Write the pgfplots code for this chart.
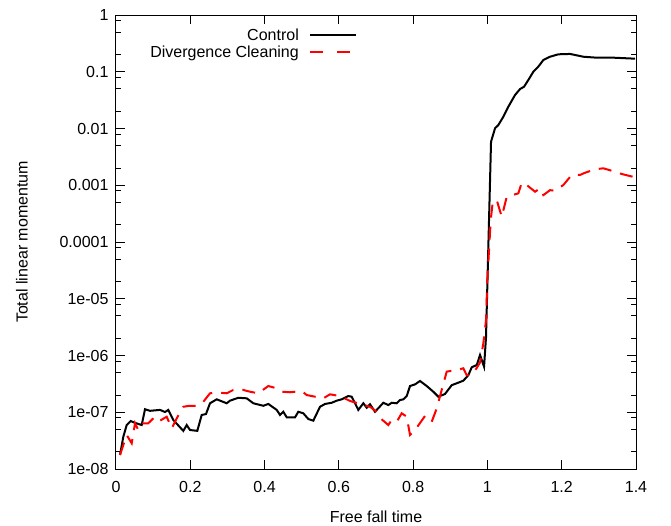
\documentclass[border=0pt]{standalone}
\usepackage{pgfplots}
\pgfplotsset{compat=1.18}
\usepackage{fontspec}
\setmainfont{Liberation Sans}
\begin{document}
\begin{tikzpicture}
\useasboundingbox (-116bp,-57bp) rectangle (555bp,469bp);
\begin{axis}[
  at={(0bp,0bp)}, anchor=south west,
  scale only axis, width=520bp, height=454bp,
  xmin=0, xmax=1.4, ymin=1e-8, ymax=1,
  ymode=log,
  font=\fontsize{16bp}{19bp}\selectfont,
  axis line style={line width=1bp},
  every tick/.style={black, line width=1bp},
  major tick length=9bp, minor tick length=5bp,
  tick align=inside,
  xtick={0,0.2,0.4,0.6,0.8,1,1.2,1.4},
  xticklabels={0,0.2,0.4,0.6,0.8,1,1.2,1.4},
  ytick={1e-8,1e-7,1e-6,1e-5,1e-4,1e-3,1e-2,1e-1,1},
  yticklabels={1e-08,1e-07,1e-06,1e-05,0.0001,0.001,0.01,0.1,1},
  minor ytick={2e-8,5e-8,8e-8,2e-7,5e-7,8e-7,2e-6,5e-6,8e-6,2e-5,5e-5,8e-5,2e-4,5e-4,8e-4,2e-3,5e-3,8e-3,2e-2,5e-2,8e-2,2e-1,5e-1,8e-1},
  minor xtick={},
  yticklabel style={xshift=-4bp},
  xticklabel style={yshift=-9bp},
  every axis y label/.style={at={(axis description cs:-0.181,0.5)}, rotate=90, anchor=center},
  every axis x label/.style={at={(axis description cs:0.5,-0.1057)}, anchor=center},
  ylabel={Total linear momentum},
  xlabel={Free fall time},
  legend plot pos=right,
  legend cell align=right,
  legend image code/.code={\draw[#1] plot coordinates {(0bp,0bp) (23bp,0bp) (46bp,0bp)};},
  legend style={draw=none, fill=none, at={(axis description cs:0.4635,0.975)}, anchor=north east, inner sep=0pt, row sep=0bp, column sep=8bp, font=\fontsize{16bp}{19bp}\selectfont},
]
\addplot[black, line width=2bp] coordinates {
(0.0108,1.77e-8) (0.0197,3.7e-8) (0.0288,5.96e-8) (0.0396,7.0e-8) (0.0512,6.5e-8)
(0.0692,5.96e-8) (0.0781,1.13e-7) (0.0915,1.06e-7) (0.1185,1.10e-7) (0.1319,1.01e-7)
(0.1408,1.10e-7) (0.1543,7.3e-8) (0.1812,4.7e-8) (0.1904,5.96e-8) (0.1992,4.87e-8)
(0.2189,4.7e-8) (0.2307,8.95e-8) (0.2423,9.3e-8) (0.2531,1.44e-7) (0.2711,1.69e-7)
(0.2981,1.44e-7) (0.3069,1.60e-7) (0.3293,1.80e-7) (0.3519,1.76e-7) (0.3697,1.44e-7)
(0.3966,1.30e-7) (0.4101,1.40e-7) (0.4327,1.10e-7) (0.4416,8.95e-8) (0.4505,1.02e-7)
(0.4596,8.15e-8) (0.4820,8.15e-8) (0.4908,1.02e-7) (0.5043,9.6e-8) (0.5178,7.6e-8)
(0.5312,7.1e-8) (0.5493,1.25e-7) (0.5627,1.40e-7) (0.5808,1.47e-7) (0.5942,1.60e-7)
(0.6077,1.69e-7) (0.6255,1.93e-7) (0.6346,1.88e-7) (0.6435,1.44e-7) (0.6524,1.10e-7)
(0.6659,1.44e-7) (0.6750,1.20e-7) (0.6839,1.38e-7) (0.6974,1.02e-7) (0.7197,1.47e-7)
(0.7332,1.34e-7) (0.7423,1.47e-7) (0.7558,1.44e-7) (0.7647,1.64e-7) (0.7736,1.69e-7)
(0.7827,1.93e-7) (0.7916,2.9e-7) (0.8051,3.1e-7) (0.8185,3.56e-7) (0.8366,2.9e-7)
(0.8543,2.3e-7) (0.8678,1.88e-7) (0.8858,2.1e-7) (0.9039,3.0e-7) (0.9173,3.24e-7)
(0.9351,3.6e-7) (0.9486,4.5e-7) (0.9577,6.2e-7) (0.9712,6.8e-7) (0.9801,1.02e-6)
(0.9909,6.35e-7) (0.9962,2.1e-6) (1.0097,5.85e-3) (1.0205,1.01e-2) (1.0293,1.15e-2)
(1.0428,1.61e-2) (1.0563,2.42e-2) (1.0743,3.89e-2) (1.0878,4.96e-2) (1.0986,5.45e-2)
(1.1101,7.16e-2) (1.1236,0.100) (1.1370,0.123) (1.1505,0.161) (1.1685,0.184)
(1.1909,0.203) (1.2224,0.206) (1.2582,0.184) (1.2943,0.177) (1.3390,0.177) (1.3974,0.170)
};
\addlegendentry{Control}
\addplot[red, line width=2bp, dash pattern=on 13bp off 9bp, legend image post style={dash pattern=on 13bp off 14bp}] coordinates {
(0.0108,1.77e-8) (0.0288,3.97e-8) (0.0423,2.84e-8) (0.0512,6.4e-8) (0.0600,4.87e-8)
(0.0735,6.4e-8) (0.0870,6.4e-8) (0.1050,8.35e-8) (0.1185,7.1e-8) (0.1365,8.35e-8)
(0.1500,5.2e-8) (0.1634,7.8e-8) (0.1812,1.25e-7) (0.1947,1.29e-7) (0.2173,1.29e-7)
(0.2351,1.53e-7) (0.2531,2.16e-7) (0.2800,2.21e-7) (0.2981,2.16e-7) (0.3158,2.47e-7)
(0.3428,2.47e-7) (0.3608,2.3e-7) (0.3831,2.16e-7) (0.4101,2.9e-7) (0.4327,2.64e-7)
(0.4462,2.3e-7) (0.4685,2.25e-7) (0.5000,2.37e-7) (0.5135,2.01e-7) (0.5358,1.88e-7)
(0.5582,1.76e-7) (0.5762,2.07e-7) (0.6031,1.93e-7) (0.6300,1.58e-7) (0.6570,1.40e-7)
(0.6839,1.25e-7) (0.7019,1.02e-7) (0.7154,7.5e-8) (0.7332,5.96e-8) (0.7423,7.3e-8)
(0.7558,6.8e-8) (0.7692,9.6e-8) (0.7827,8.35e-8) (0.7916,3.97e-8) (0.8051,4.87e-8)
(0.8320,8.6e-8) (0.8500,6.8e-8) (0.8635,1.17e-7) (0.8724,1.93e-7) (0.8904,5.2e-7)
(0.9173,5.55e-7) (0.9351,5.95e-7) (0.9442,4.5e-7) (0.9620,4.86e-7) (0.9801,7.5e-7)
(0.9890,1.64e-6) (0.9962,4.2e-6) (0.9997,2.14e-5) (1.0089,2.44e-4) (1.0143,5.1e-4)
(1.0250,5.5e-4) (1.0385,2.79e-4) (1.0520,6.3e-4) (1.0832,7.2e-4) (1.0924,1.11e-3)
(1.1058,1.01e-3) (1.1282,7.7e-4) (1.1416,8.8e-4) (1.1505,6.7e-4) (1.1685,8.2e-4)
(1.1820,8.0e-4) (1.2044,1.01e-3) (1.2270,1.52e-3) (1.2493,1.52e-3) (1.2628,1.66e-3)
(1.2897,1.91e-3) (1.3120,1.99e-3) (1.3347,1.80e-3) (1.3616,1.58e-3) (1.3974,1.38e-3)
};
\addlegendentry{Divergence Cleaning}
\end{axis}
\end{tikzpicture}
\end{document}
